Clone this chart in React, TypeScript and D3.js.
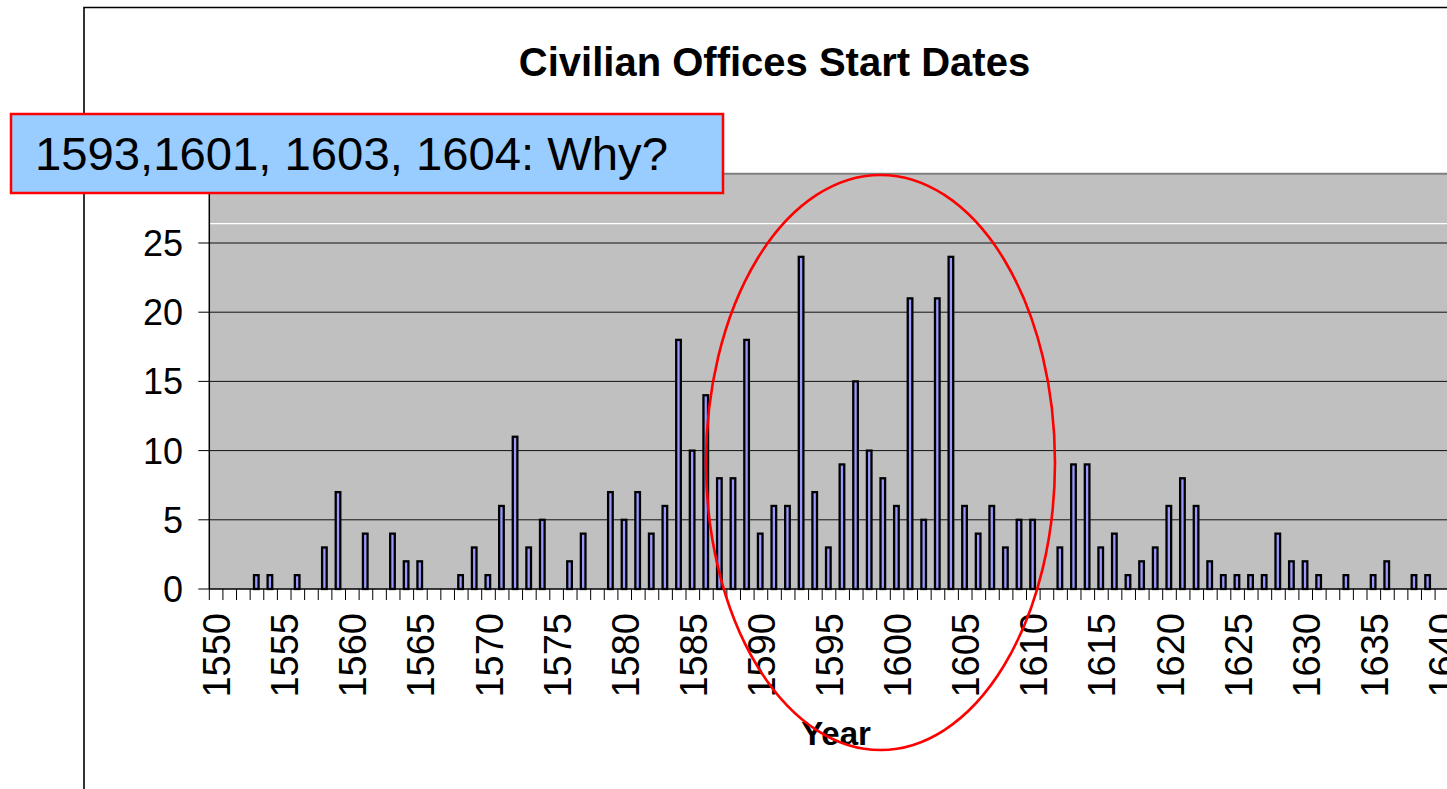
import * as d3 from 'd3'

// offices started per year, 1550 .. 1640
const years = [
  1550, 1551, 1552, 1553, 1554, 1555, 1556, 1557, 1558, 1559,
  1560, 1561, 1562, 1563, 1564, 1565, 1566, 1567, 1568, 1569,
  1570, 1571, 1572, 1573, 1574, 1575, 1576, 1577, 1578, 1579,
  1580, 1581, 1582, 1583, 1584, 1585, 1586, 1587, 1588, 1589,
  1590, 1591, 1592, 1593, 1594, 1595, 1596, 1597, 1598, 1599,
  1600, 1601, 1602, 1603, 1604, 1605, 1606, 1607, 1608, 1609,
  1610, 1611, 1612, 1613, 1614, 1615, 1616, 1617, 1618, 1619,
  1620, 1621, 1622, 1623, 1624, 1625, 1626, 1627, 1628, 1629,
  1630, 1631, 1632, 1633, 1634, 1635, 1636, 1637, 1638, 1639,
  1640,
]
const counts = [
  0, 0, 0, 1, 1, 0, 1, 0, 3, 7,
  0, 4, 0, 4, 2, 2, 0, 0, 1, 3,
  1, 6, 11, 3, 5, 0, 2, 4, 0, 7,
  5, 7, 4, 6, 18, 10, 14, 8, 8, 18,
  4, 6, 6, 24, 7, 3, 9, 15, 10, 8,
  6, 21, 5, 21, 24, 6, 4, 6, 3, 5,
  5, 0, 3, 9, 9, 3, 4, 1, 2, 3,
  6, 8, 6, 2, 1, 1, 1, 1, 4, 2,
  2, 1, 0, 1, 0, 1, 2, 0, 1, 1,
  0,
]
const xLabels = [1550, 1555, 1560, 1565, 1570, 1575, 1580, 1585, 1590, 1595, 1600, 1605, 1610, 1615, 1620, 1625, 1630, 1635, 1640]
const yTicks = [0, 5, 10, 15, 20, 25]

const W = 1447
const H = 789
const FONT = '"Liberation Sans", Arial, sans-serif'

export default function App() {
  const left = 209.3
  const step = 13.62
  const x = d3.scaleBand<number>()
    .domain(years)
    .range([left, left + step * years.length])
  const y = d3.scaleLinear().domain([0, 30]).range([589, 173.8])

  const plotRight = left + step * years.length
  const barW = 4.6

  return (
    <svg width={W} height={H} style={{ position: 'absolute', left: 0, top: 0, background: '#fff' }}>
      {/* chart frame */}
      <path d={`M84,${H} V7.5 H${W}`} fill="none" stroke="#000" strokeWidth={1.6} />

      {/* plot area */}
      <rect x={left} y={y(30)} width={plotRight - left} height={y(0) - y(30)} fill="#C0C0C0" />
      <line x1={left} x2={plotRight} y1={y(30)} y2={y(30)} stroke="#808080" strokeWidth={2} />
      <line x1={left} x2={plotRight} y1={y(26.4)} y2={y(26.4)} stroke="#fff" strokeWidth={1.2} />
      {yTicks.filter(t => t > 0).map(t => (
        <line key={t} x1={left} x2={plotRight} y1={y(t)} y2={y(t)} stroke="#111" strokeWidth={1} />
      ))}

      {/* bars */}
      {years.map((yr, i) => counts[i] > 0 && (
        <rect
          key={yr}
          x={x(yr)! + x.bandwidth() * 0.45 - barW / 2}
          y={y(counts[i])}
          width={barW}
          height={y(0) - y(counts[i])}
          fill="#9999FF"
          stroke="#000"
          strokeWidth={2.3}
        />
      ))}

      {/* y axis */}
      <line x1={left} x2={left} y1={y(30)} y2={y(0)} stroke="#000" strokeWidth={1.5} />
      {yTicks.map(t => (
        <g key={t}>
          <line x1={left - 11} x2={left} y1={y(t)} y2={y(t)} stroke="#000" strokeWidth={1} />
          <text x={183} y={y(t)} dy="0.36em" textAnchor="end" fontFamily={FONT} fontSize={36}>{t}</text>
        </g>
      ))}

      {/* x axis */}
      <line x1={left} x2={plotRight} y1={y(0)} y2={y(0)} stroke="#000" strokeWidth={1.5} />
      {years.map(yr => (
        <line key={yr} x1={x(yr)!} x2={x(yr)!} y1={y(0)} y2={y(0) + 11} stroke="#000" strokeWidth={1} />
      ))}
      {xLabels.map(yr => {
        const cx = x(yr)! + x.bandwidth() / 2
        return (
          <text
            key={yr}
            transform={`translate(${cx},613) rotate(-90)`}
            dy="0.37em"
            textAnchor="end"
            fontFamily={FONT}
            fontSize={38}
          >
            {yr}
          </text>
        )
      })}

      {/* titles */}
      <text x={774.5} y={76} textAnchor="middle" fontFamily={FONT} fontSize={40} fontWeight="bold">
        Civilian Offices Start Dates
      </text>
      <text x={836} y={745} textAnchor="middle" fontFamily={FONT} fontSize={33} fontWeight="bold">
        Year
      </text>

      {/* annotation */}
      <ellipse cx={880.5} cy={462.5} rx={174.5} ry={287.5} fill="none" stroke="#FF0000" strokeWidth={2.6} />
      <rect x={11} y={114} width={712} height={79} fill="#99CCFF" stroke="#FF0000" strokeWidth={2.5} />
      <text x={35} y={170} fontFamily={FONT} fontSize={46} textLength={633} lengthAdjust="spacingAndGlyphs">
        1593,1601, 1603, 1604: Why?
      </text>
    </svg>
  )
}
